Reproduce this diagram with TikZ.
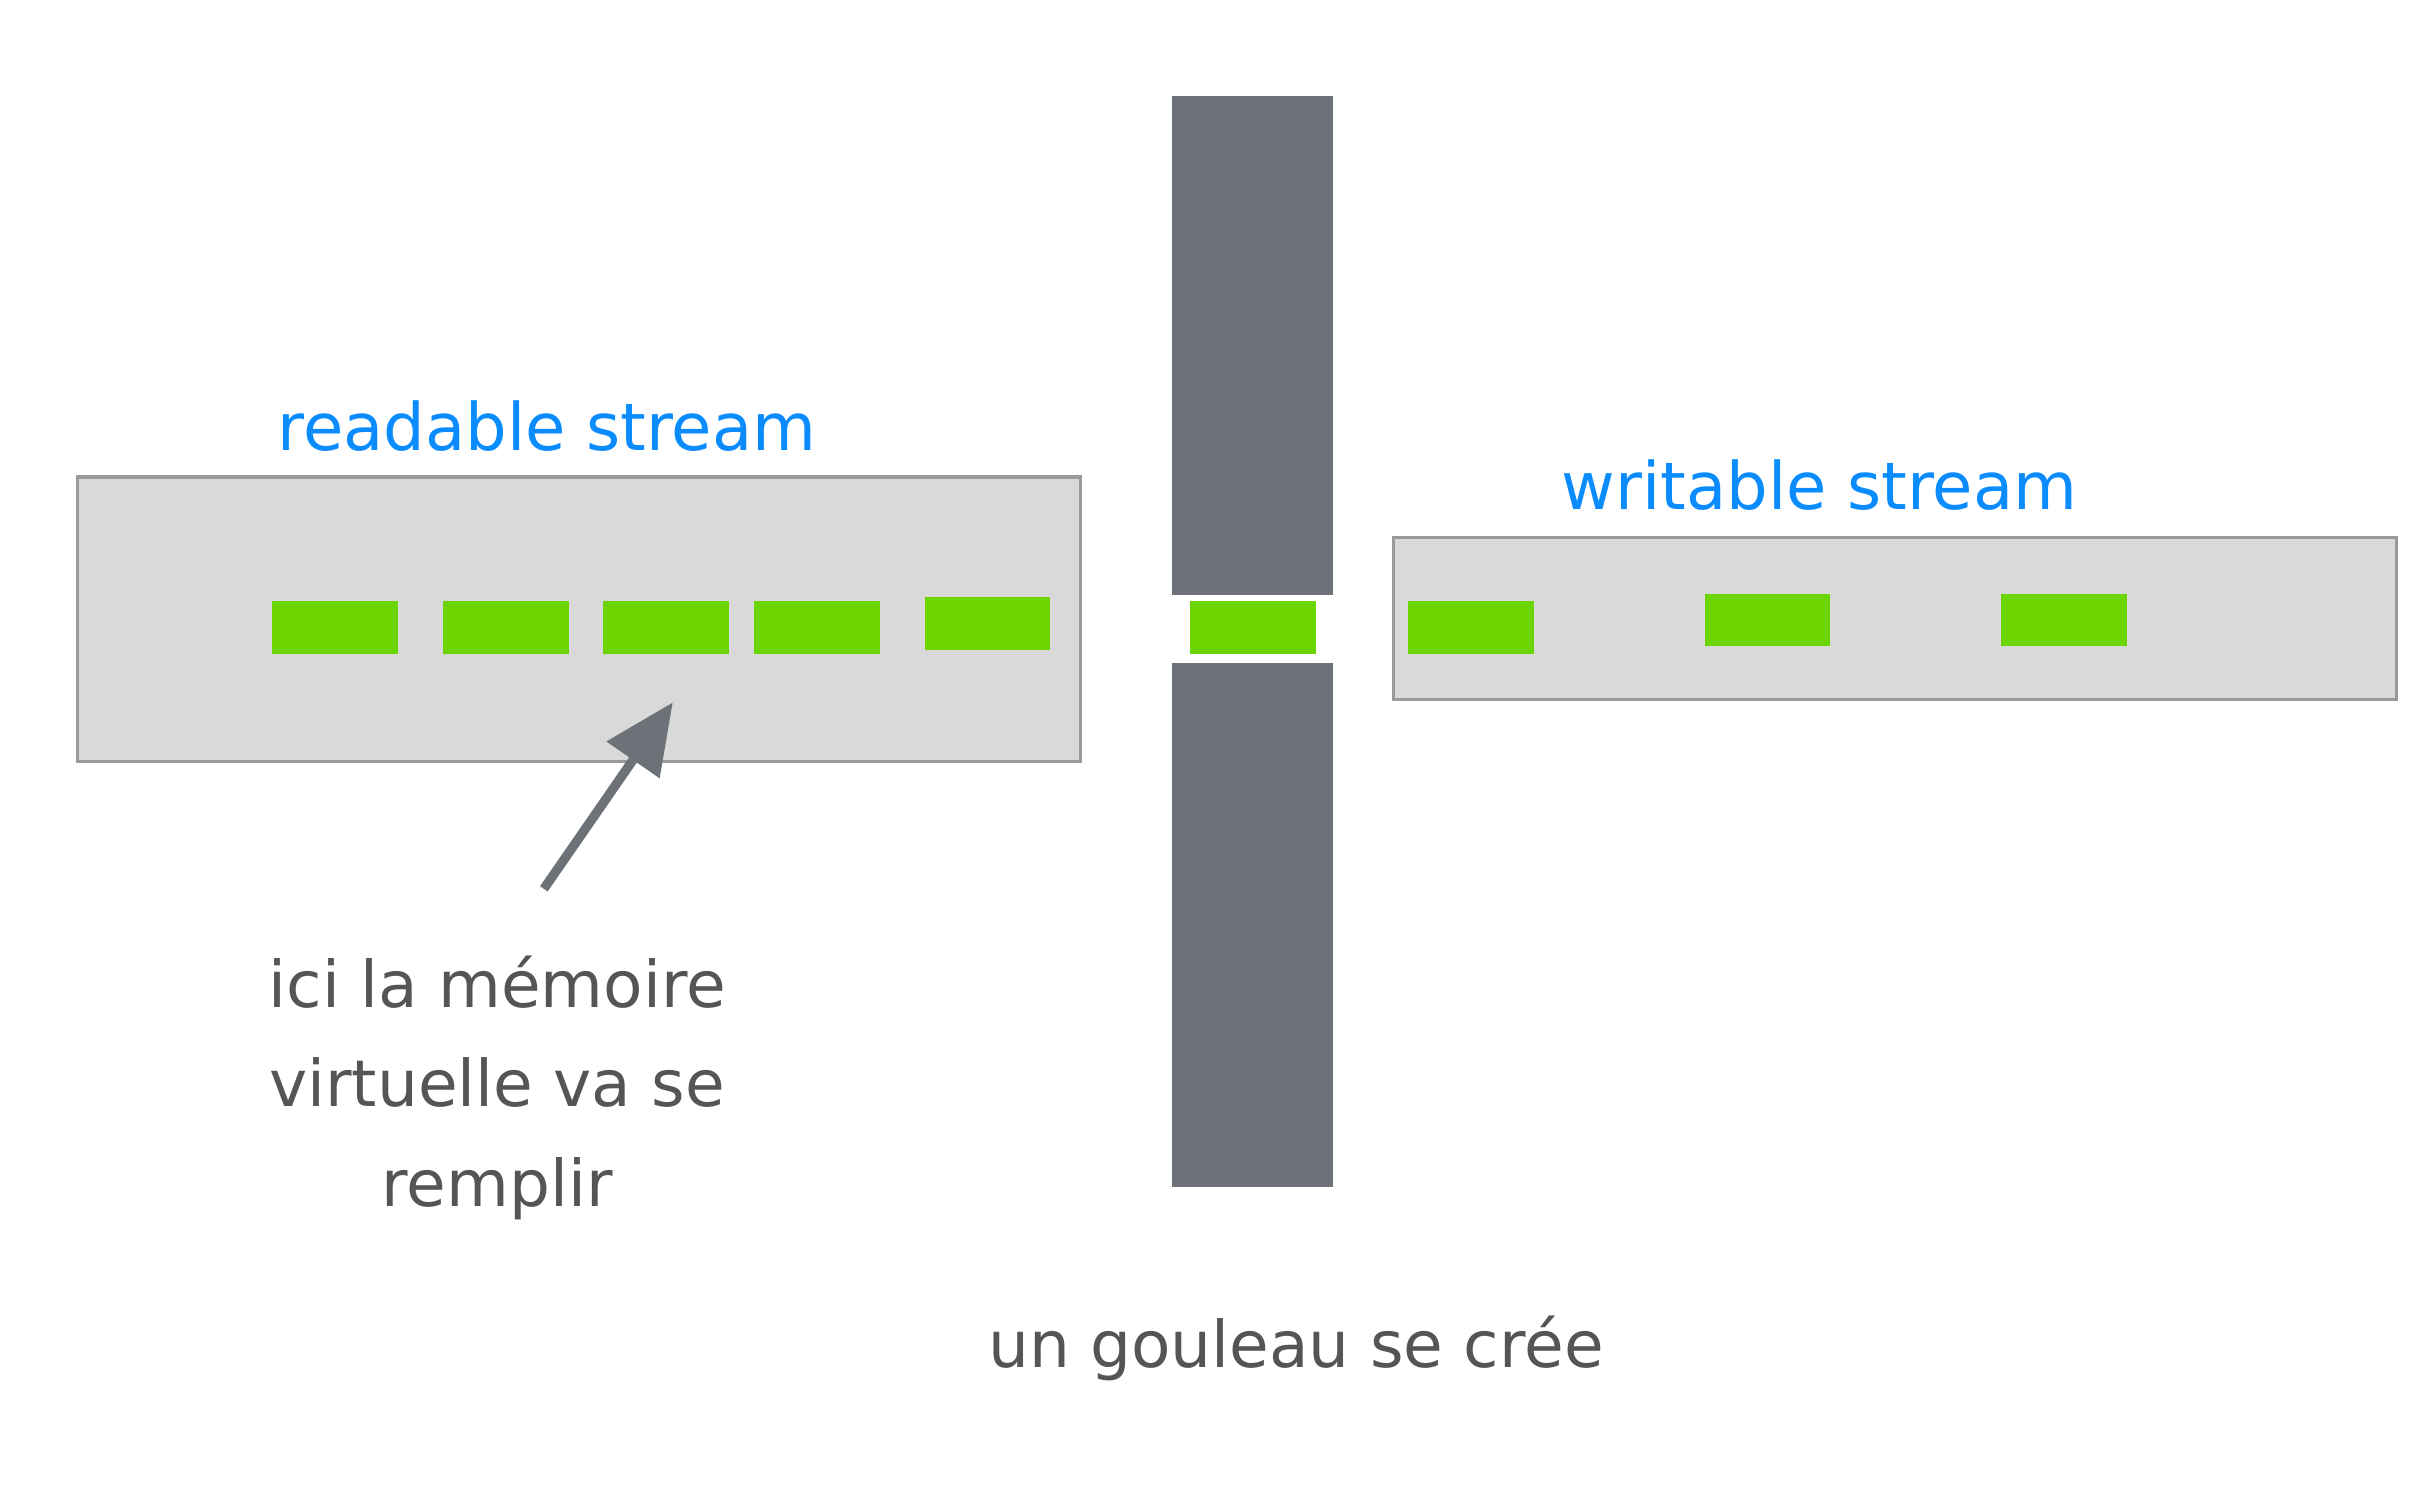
\documentclass[tikz,border=0pt]{standalone}
\usepackage{fontspec}
\setmainfont{DejaVu Sans}
\usetikzlibrary{arrows.meta}
\definecolor{boxgrey}{HTML}{D9D9D9}
\definecolor{boxline}{HTML}{9A9A9A}
\definecolor{bargrey}{HTML}{6D7178}
\definecolor{chunkgreen}{HTML}{6CD400}
\definecolor{streamblue}{HTML}{0A8CFF}
\definecolor{notegrey}{HTML}{555555}
\tikzset{
  chunk/.style={fill=chunkgreen, minimum width=0.81cm, minimum height=0.34cm, inner sep=0pt},
  stream/.style={draw=boxline, fill=boxgrey, line width=0.6pt, inner sep=0pt},
  wall/.style={fill=bargrey, minimum width=1.04cm, inner sep=0pt},
  title/.style={text=streamblue, font=\fontsize{12}{14}\selectfont, anchor=base},
  note/.style={text=notegrey, font=\fontsize{11.8}{18.2}\selectfont, align=center},
}
\begin{document}
\begin{tikzpicture}[x=0.01cm,y=-0.01cm]
    \useasboundingbox (0,0) rectangle (1560,959);
    % the two streams
    \node[stream, minimum width=6.45cm, minimum height=1.83cm] (readable) at (372.5,398.5) {};
    \node[stream, minimum width=6.45cm, minimum height=1.04cm] (writable) at (1219.5,398) {};
    \node[title] (rtitle) at (352,290) {readable stream};
    \node[title] (wtitle) at (1171,328) {writable stream};
    % the wall and its gap
    \node[wall, minimum height=3.21cm] (walltop) at (806,222.5) {};
    \node[wall, minimum height=3.37cm] (wallbot) at (806,595.5) {};
    \node[chunk] (gap) at (806.5,404) {};
    % chunks
    \foreach \x/\y [count=\i] in {215.5/404,325.5/404,428.5/404,525.5/404,635.5/401}
        \node[chunk] (r\i) at (\x,\y) {};
    \foreach \x/\y [count=\i] in {946.5/404,1137.5/399,1328.5/399}
        \node[chunk] (w\i) at (\x,\y) {};
    % notes
    \node[note] (memory) at (320,700) {ici la mémoire\\virtuelle va se\\remplir};
    \node[note, anchor=base] (neck) at (834,880) {un gouleau se crée};
    \coordinate (tail) at (350,572);
    \coordinate (tip) at (433,452);
    \draw[bargrey, line width=1.7pt, -{Triangle[length=0.45cm,width=0.4cm]}] (tail) -- (tip);
\end{tikzpicture}
\end{document}
